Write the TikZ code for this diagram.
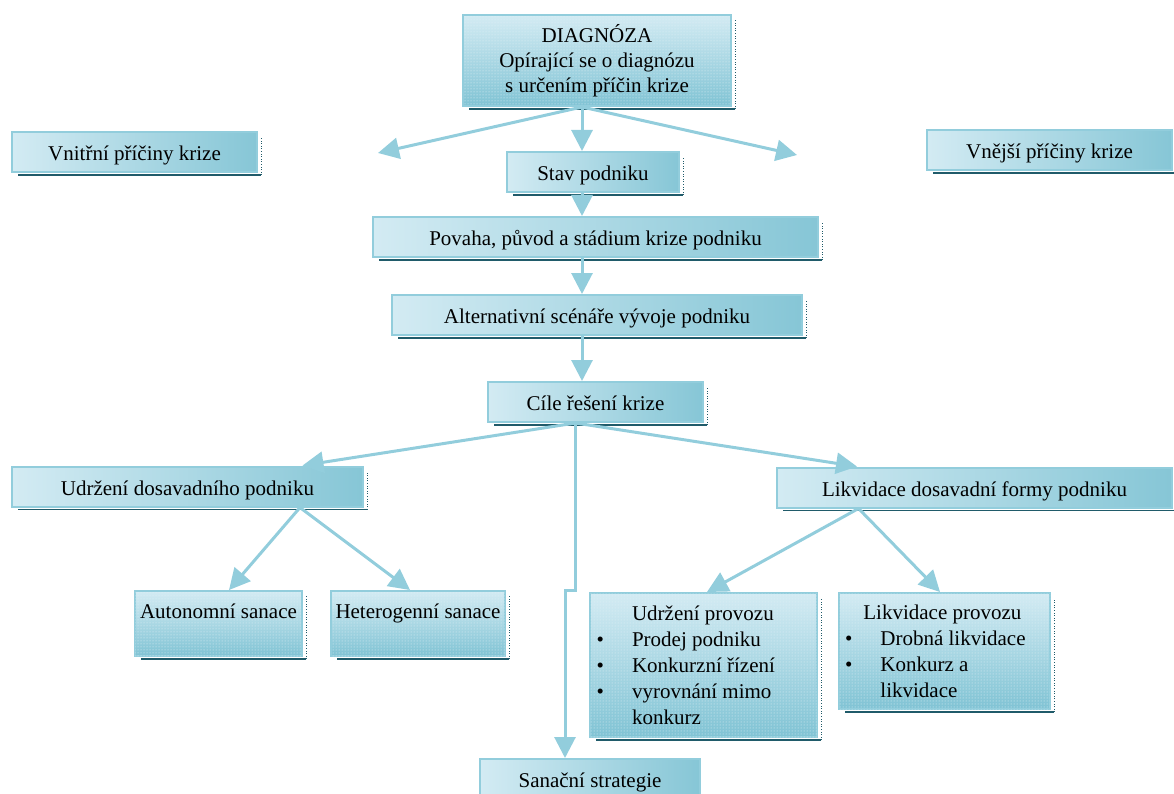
\documentclass[tikz,border=0pt]{standalone}
\usepackage{fontspec}
\setmainfont{Liberation Serif}
\usetikzlibrary{arrows.meta,patterns}
\definecolor{ramec}{HTML}{92CDDC}
\definecolor{svetla}{HTML}{D3EBF3}
\definecolor{tmava}{HTML}{86C6D6}
\definecolor{tecky}{HTML}{80C3D4}
\definecolor{stin}{HTML}{205B6A}
\tikzset{
  ramecek/.style={draw=ramec, line width=2pt, inner sep=0pt, font=\fontsize{21}{25}\selectfont},
  blok/.style={ramecek, left color=svetla, right color=tmava, minimum height=40pt,
    text height=17pt, text depth=0pt},
  bloktecky/.style={ramecek, top color=svetla, bottom color=tecky,
    postaction={pattern=dots, pattern color=svetla!60!white}},
  seznam/.style={bloktecky, align=left, font=\fontsize{21}{26}\selectfont},
  stinlinka/.style={draw=stin, line width=1.2pt},
  sipka/.style={draw=ramec, line width=3pt, -{Triangle[length=21pt,width=21pt]}}
}
\newcommand{\odrazka}{\llap{\textbullet\hspace{28pt}}}
\begin{document}
\begin{tikzpicture}[x=1pt,y=-1pt]
  \useasboundingbox (0,0) rectangle (1174,794);
  % boxes
  \node[bloktecky, align=center, minimum width=268pt, minimum height=91pt] (diag) at (597,60.5)
    {DIAGNÓZA\\Opírající se o diagnózu\\s určením příčin krize};
  \node[blok, minimum width=245pt] (vnitrni) at (134.5,152) {Vnitřní příčiny krize};
  \node[blok, minimum width=245pt] (vnejsi) at (1049.5,150) {Vnější příčiny krize};
  \node[blok, minimum width=172pt] (stav) at (593,172) {Stav podniku};
  \node[blok, minimum width=445pt] (povaha) at (595.5,237) {Povaha, původ a stádium krize podniku};
  \node[blok, minimum width=410pt] (altern) at (597,315) {Alternativní scénáře vývoje podniku};
  \node[blok, minimum width=215pt] (cile) at (595.5,402) {Cíle řešení krize};
  \node[blok, minimum width=351pt] (udrz) at (187.5,486.5) {Udržení dosavadního podniku};
  \node[blok, minimum width=395pt] (likv) at (974.5,487.5) {Likvidace dosavadní formy podniku};
  \node[bloktecky, minimum width=167pt, minimum height=65pt, text height=16pt, text depth=27pt] (auto) at (218.5,623.5) {Autonomní sanace};
  \node[bloktecky, minimum width=174pt, minimum height=65pt, text height=16pt, text depth=27pt] (hetero) at (418,623.5) {Heterogenní sanace};
  \node[seznam, minimum width=227pt, minimum height=144pt] (udrzprov) at (703.5,665)
    {Udržení provozu\\
     \odrazka Prodej podniku\\
     \odrazka Konkurzní řízení\\
     \odrazka vyrovnání mimo\\
     konkurz};
  \node[seznam, minimum width=211pt, minimum height=116pt] (likvprov) at (944.5,651)
    {Likvidace provozu\\
     \hspace*{17pt}\odrazka Drobná likvidace\\
     \hspace*{17pt}\odrazka Konkurz a\\
     \hspace*{17pt}likvidace};
  \node[blok, minimum width=220pt] (sanacni) at (590,779) {Sanační strategie};
  % shadows
  \foreach \n in {diag,vnitrni,vnejsi,stav,povaha,altern,cile,udrz,likv,auto,hetero,udrzprov,likvprov}{
    \draw[stinlinka] ([shift={(7pt,-2pt)}]\n.south west) -- ([shift={(3pt,-2pt)}]\n.south east);
    \draw[stinlinka, line width=0.6pt, dotted] ([shift={(3pt,-2pt)}]\n.south east) -- ([shift={(3pt,-6pt)}]\n.north east);
  }
  % branch points
  \coordinate (diagpata) at ([xshift=-15pt]diag.south);
  \coordinate (vnitrnihrot) at (378,153);
  \coordinate (vnejsihrot) at (797,155);
  \coordinate (cilpata) at ([xshift=-20pt]cile.south);
  \coordinate (udrzpata) at ([xshift=112.5pt]udrz.south);
  \coordinate (likvpata) at ([xshift=-116pt]likv.south);
  \begin{scope}[sipka]
    \draw (diagpata) -- (diagpata |- stav.north);
    \draw (diagpata) -- (vnitrnihrot);
    \draw (diagpata) -- (vnejsihrot);
    \draw (stav.south -| diagpata) -- (povaha.north -| diagpata);
    \draw (povaha.south -| diagpata) -- (altern.north -| diagpata);
    \draw (altern.south -| diagpata) -- (cile.north -| diagpata);
    \draw (cilpata) -- ([xshift=115pt]udrz.north);
    \draw (cilpata) -- ([xshift=-117.5pt]likv.north);
    \draw (cilpata) -- ++(0,167) -| ([xshift=-25pt]sanacni.north);
    \draw (udrzpata) -- ([xshift=10.5pt]auto.north);
    \draw (udrzpata) -- ([xshift=-8pt]hetero.north);
    \draw (likvpata) -- ([xshift=3.5pt]udrzprov.north);
    \draw (likvpata) -- ([xshift=-4.5pt]likvprov.north);
  \end{scope}
\end{tikzpicture}
\end{document}
